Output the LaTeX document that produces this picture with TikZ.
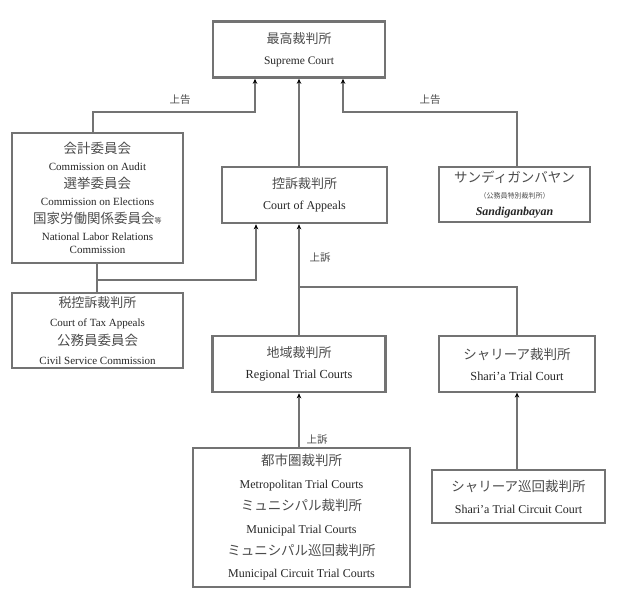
\documentclass[tikz,border=0pt]{standalone}
\usepackage{fontspec}
\setmainfont{Liberation Serif}
\newfontfamily\jp{Noto Sans CJK JP}
\usetikzlibrary{arrows.meta}
\definecolor{ln}{gray}{0.45}
\definecolor{tx}{gray}{0.15}
\definecolor{jtx}{gray}{0.3}
\newcommand{\J}[1]{{\color{jtx}\jp\fontsize{13}{1}\selectfont #1}}
\newcommand{\JL}[1]{{\color{jtx}\jp\fontsize{13.5}{1}\selectfont #1}}
\begin{document}
\begin{tikzpicture}[x=1pt,y=-1pt,
  court/.style={draw=ln,fill=white,text=tx,align=center,inner sep=0pt},
  thickbox/.style={court,line width=2.6pt},
  thinbox/.style={court,line width=1.2pt},
  conn/.style={draw=ln,line width=1.4pt},
  arr/.style={conn,-{Stealth[length=5pt,width=4.5pt,color=black]}},
  lab/.style={text=jtx,inner sep=0pt,font=\jp\fontsize{10.5}{12}\selectfont}]
\useasboundingbox (0,0) rectangle (625,592);
% boxes
\node[thickbox,minimum width=172,minimum height=56,
  font=\fontsize{11.5}{21}\selectfont] (sup) at (299,49.5)
  {\J{最高裁判所}\\Supreme Court};
\node[thinbox,minimum width=171,minimum height=130,
  font=\fontsize{11}{17.5}\selectfont] (comm) at (97.5,198)
  {\JL{会計委員会}\\Commission on Audit\\\JL{選挙委員会}\\Commission on Elections\\\JL{国家労働関係委員会{\fontsize{7}{1}\selectfont 等}}\\National Labor Relations\\[-4.5pt]Commission};
\node[thickbox,minimum width=165,minimum height=56,
  font=\fontsize{12}{21}\selectfont] (coa) at (304.5,195)
  {\J{控訴裁判所}\\Court of Appeals};
\node[thinbox,minimum width=151,minimum height=55,
  font=\fontsize{12}{16.5}\selectfont] (sand) at (514.5,194.5)
  {\JL{サンディガンバヤン}\\{\color{jtx}\jp\fontsize{7}{1}\selectfont （公務員特別裁判所）}\\\textbf{\textit{Sandiganbayan}}};
\node[thinbox,minimum width=171,minimum height=75,
  font=\fontsize{11}{19}\selectfont] (tax) at (97.5,330.5)
  {\J{税控訴裁判所}\\Court of Tax Appeals\\\JL{公務員委員会}\\Civil Service Commission};
\node[thickbox,minimum width=173,minimum height=56,
  font=\fontsize{12.3}{21}\selectfont] (reg) at (299,364)
  {\J{地域裁判所}\\Regional Trial Courts};
\node[thinbox,minimum width=156,minimum height=56,
  font=\fontsize{12.3}{21}\selectfont] (shtc) at (517,364)
  {\JL{シャリーア裁判所}\\Shari'a Trial Court};
\node[thickbox,minimum width=217,minimum height=139,
  font=\fontsize{12}{22.4}\selectfont] (metro) at (301.5,517.5)
  {\JL{都市圏裁判所}\\Metropolitan Trial Courts\\\JL{ミュニシパル裁判所}\\Municipal Trial Courts\\\JL{ミュニシパル巡回裁判所}\\Municipal Circuit Trial Courts};
\node[thinbox,minimum width=173,minimum height=53,
  font=\fontsize{12}{22}\selectfont] (circ) at (518.5,496.5)
  {\JL{シャリーア巡回裁判所}\\Shari'a Trial Circuit Court};
% junction coordinates
\coordinate (kL) at (93,112);
\coordinate (aL) at (255,112);
\coordinate (kR) at (517,112);
\coordinate (aR) at (343,112);
\coordinate (kT) at (97,280);
\coordinate (aT) at (256,280);
\coordinate (kS) at (517,287);
% connectors
\draw[arr] (kL |- comm.north) -- (kL) -- (aL) -- (aL |- sup.south);
\draw[arr] (kR |- sand.north) -- (kR) -- (aR) -- (aR |- sup.south);
\draw[arr] (sup.south |- coa.north) -- (sup.south);
\draw[conn] (kT |- comm.south) -- (kT |- tax.north);
\draw[arr] (kT) -- (aT) -- (aT |- coa.south);
\draw[arr] (reg.north) -- (reg.north |- coa.south);
\draw[conn] (kS |- shtc.north) -- (kS) -- (kS -| reg.north);
\draw[arr] (metro.north -| reg.south) -- (reg.south);
\draw[arr] (circ.north -| shtc.south) -- (shtc.south);
% labels
\node[lab] (l1) at (180,100) {上告};
\node[lab] (l2) at (430,100) {上告};
\node[lab] (l3) at (320,258) {上訴};
\node[lab] (l4) at (317,440) {上訴};
\end{tikzpicture}
\end{document}
